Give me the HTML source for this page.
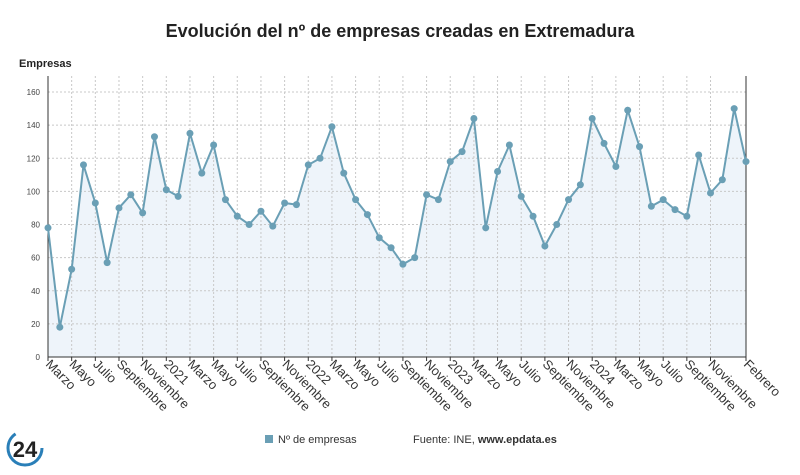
<!DOCTYPE html>
<html><head><meta charset="utf-8"><style>
body{margin:0;background:#fff;width:800px;height:470px;overflow:hidden;font-family:"Liberation Sans",sans-serif}
</style></head><body>
<svg id="s" width="800" height="470" xmlns="http://www.w3.org/2000/svg" font-family="Liberation Sans, sans-serif">
<text x="400" y="37" text-anchor="middle" font-size="18" font-weight="bold" fill="#222">Evolución del nº de empresas creadas en Extremadura</text>
<text x="19" y="67" font-size="11" font-weight="bold" fill="#222">Empresas</text>
<g id="g"></g>
<circle cx="25" cy="448" r="17" fill="none" stroke="#2a7fb8" stroke-width="3" stroke-dasharray="70 40"/>
<text x="25" y="457" text-anchor="middle" font-size="22" font-weight="bold" fill="#222">24</text>
<rect x="265" y="435" width="8" height="8" fill="#6a9fb5"/>
<text x="278" y="443" font-size="11" fill="#333">Nº de empresas</text>
<text x="413" y="443" font-size="11" fill="#333">Fuente: INE, <tspan font-weight="bold">www.epdata.es</tspan></text>
</svg>
<script>
var v=[78,18,53,116,93,57,90,98,87,133,101,97,135,111,128,95,85,80,88,79,93,92,116,120,139,111,95,86,72,66,56,60,98,95,118,124,144,78,112,128,97,85,67,80,95,104,144,129,115,149,127,91,95,89,85,122,99,107,150,118];
var L={0:"Marzo",2:"Mayo",4:"Julio",6:"Septiembre",8:"Noviembre",10:"2021",12:"Marzo",14:"Mayo",16:"Julio",18:"Septiembre",20:"Noviembre",22:"2022",24:"Marzo",26:"Mayo",28:"Julio",30:"Septiembre",32:"Noviembre",34:"2023",36:"Marzo",38:"Mayo",40:"Julio",42:"Septiembre",44:"Noviembre",46:"2024",48:"Marzo",50:"Mayo",52:"Julio",54:"Septiembre",56:"Noviembre",59:"Febrero"};
var X=function(i){return 48+i*698/59},Y=function(d){return 357-d*265/160};
var h='';
for(var t=0;t<=160;t+=20){var y=Y(t);h+='<line x1="48" x2="746" y1="'+y+'" y2="'+y+'" stroke="#c8c8c8" stroke-dasharray="2,2"/><text x="40" y="'+(y+3)+'" text-anchor="end" font-size="8" fill="#444">'+t+'</text>';}
for(var i in L){var x=X(+i);h+='<line x1="'+x+'" x2="'+x+'" y1="76" y2="357" stroke="#c8c8c8" stroke-dasharray="2,2"/><line x1="'+x+'" x2="'+x+'" y1="357" y2="361" stroke="#333"/><text transform="translate('+(x-3)+',365) rotate(45)" font-size="13" fill="#333">'+L[i]+'</text>';}
var p=v.map(function(d,i){return X(i).toFixed(1)+','+Y(d).toFixed(1)}).join(' ');
h='<polygon points="48,357 '+p+' 746,357" fill="#eef4fa"/>'+h;
h+='<line x1="48" x2="746" y1="357" y2="357" stroke="#333"/><line x1="48" x2="48" y1="76" y2="357" stroke="#333"/><line x1="746" x2="746" y1="76" y2="357" stroke="#333"/>';
h+='<polyline points="'+p+'" fill="none" stroke="#6a9fb5" stroke-width="2"/>';
v.forEach(function(d,i){h+='<circle cx="'+X(i)+'" cy="'+Y(d)+'" r="3.5" fill="#6a9fb5"/>';});
document.getElementById('g').innerHTML=h;
</script>
</body></html>
